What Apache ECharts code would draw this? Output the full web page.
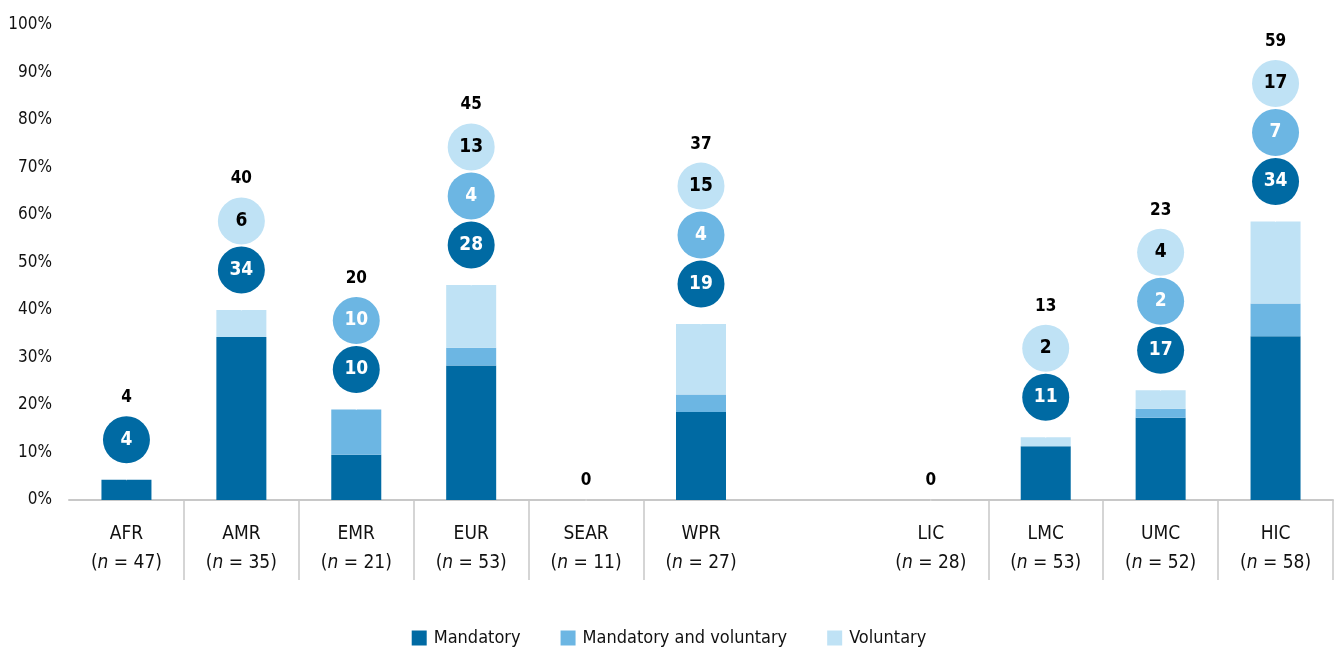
<!DOCTYPE html>
<html>
<head>
<meta charset="utf-8">
<script src="https://cdn.jsdelivr.net/npm/echarts@6/dist/echarts.min.js"></script>
<style>
  html, body { margin: 0; padding: 0; background: #fff; }
  #chart { width: 1338px; height: 650px; }
</style>
</head>
<body>
<div id="chart"></div>
<script>
// regions, a blank spacer slot, then income groups
const categories = ["AFR", "AMR", "EMR", "EUR", "SEAR", "WPR", "", "LIC", "LMC", "UMC", "HIC"];
const sampleSizes = [47, 35, 21, 53, 11, 27, null, 28, 53, 52, 58];

// share of countries (%) per type
const mandatory = [4.26, 34.29, 9.52, 28.30, 0, 18.52, null, 0, 11.32, 17.31, 34.48];
const mandatoryVoluntary = [0, 0, 9.52, 3.77, 0, 3.70, null, 0, 0, 1.92, 6.90];
const voluntary = [0, 5.71, 0, 13.21, 0, 14.81, null, 0, 1.89, 3.85, 17.24];
const totalLabels = [4, 40, 20, 45, 0, 37, null, 0, 13, 23, 59];

const seriesNames = ["Mandatory", "Mandatory and voluntary", "Voluntary"];
const colors = ["#006aa3", "#6cb6e3", "#bfe2f5"];
const circleText = ["#ffffff", "#ffffff", "#000000"];

const FONT = "'Liberation Sans Narrow', 'DejaVu Sans Condensed', sans-serif";
const valueSets = [mandatory, mandatoryVoluntary, voluntary];

// circle stack above each bar: first 40px above bar top, 49px apart
const circleData = [[], [], []];
const totalData = [];
categories.forEach((c, i) => {
  if (totalLabels[i] === null) return;
  const top = valueSets.reduce((s, arr) => s + (arr[i] || 0), 0);
  let k = 0;
  valueSets.forEach((arr, s) => {
    if (arr[i] > 0) {
      circleData[s].push({
        value: [i, top],
        symbolOffset: [0, -(40 + 49 * k)],
        label: { formatter: String(Math.round(arr[i])) }
      });
      k++;
    }
  });
  totalData.push({
    value: [i, top],
    label: { offset: [0, k > 0 ? -(40 + 49 * (k - 1) + 42) : -19], formatter: String(totalLabels[i]) }
  });
});

const chart = echarts.init(document.getElementById("chart"));

const series = [];
valueSets.forEach((arr, s) => {
  series.push({
    name: seriesNames[s],
    type: "bar",
    stack: "share",
    barWidth: 50,
    data: arr,
    itemStyle: { color: colors[s] },
    silent: true
  });
});
valueSets.forEach((arr, s) => {
  series.push({
    name: seriesNames[s] + " count",
    type: "scatter",
    symbolSize: 47,
    itemStyle: { color: colors[s], opacity: 1 },
    data: circleData[s],
    z: 5,
    label: {
      show: true,
      position: "inside",
      color: circleText[s],
      fontFamily: FONT,
      fontWeight: "bold",
      fontSize: 19
    }
  });
});
series.push({
  name: "Total",
  type: "scatter",
  symbolSize: 1,
  itemStyle: { color: "#ffffff" },
  data: totalData,
  label: {
    show: true,
    position: "inside",
    color: "#000000",
    opacity: 1,
    fontFamily: FONT,
    fontWeight: "bold",
    fontSize: 17
  }
});

chart.setOption({
  animation: false,
  grid: { left: 69, right: 5, top: 25, bottom: 150 },
  legend: {
    data: seriesNames,
    bottom: -2,
    left: "center",
    icon: "rect",
    itemWidth: 15,
    itemHeight: 15,
    itemGap: 40,
    textStyle: { fontFamily: FONT, fontSize: 18, color: "#111", padding: [0, 0, 0, 2] }
  },
  xAxis: {
    type: "category",
    data: categories,
    axisLine: { lineStyle: { color: "#c8c8c8", width: 2 } },
    axisTick: {
      show: true,
      length: 80,
      interval: (idx) => idx !== 0 && idx !== 6 && idx !== 7,
      lineStyle: { color: "#c8c8c8", width: 1.5 }
    },
    axisLabel: {
      interval: 0,
      margin: 20,
      color: "#111",
      fontFamily: FONT,
      fontSize: 19,
      lineHeight: 29,
      formatter: (val, idx) => {
        if (!val) return "";
        return "{a|" + val + "}\n{a|(}{i|n}{a| = " + sampleSizes[idx] + ")}";
      },
      rich: {
        a: { fontFamily: FONT, fontSize: 19, color: "#111", lineHeight: 29 },
        i: { fontFamily: FONT, fontSize: 19, color: "#111", fontStyle: "italic", lineHeight: 29 }
      }
    }
  },
  yAxis: {
    type: "value",
    min: 0,
    max: 100,
    interval: 10,
    axisLine: { show: false },
    axisTick: { show: false },
    splitLine: { show: false },
    axisLabel: {
      formatter: "{value}%",
      color: "#111",
      fontFamily: FONT,
      fontSize: 17,
      margin: 17
    }
  },
  series: series
});
</script>
</body>
</html>
